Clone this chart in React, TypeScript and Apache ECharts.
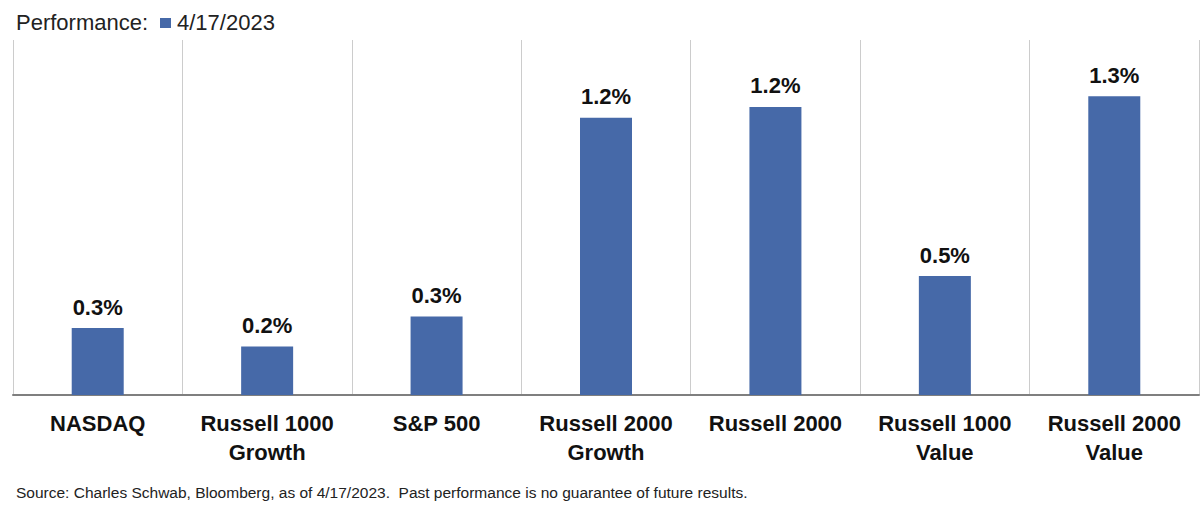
import React, { useEffect, useRef } from "react";
import * as echarts from "echarts";

const categories = [
  "NASDAQ",
  "Russell 1000\nGrowth",
  "S&P 500",
  "Russell 2000\nGrowth",
  "Russell 2000",
  "Russell 1000\nValue",
  "Russell 2000\nValue",
];
const values = [0.29, 0.21, 0.34, 1.2, 1.247, 0.515, 1.294];
const seriesName = "4/17/2023";
const legendPrefix = "Performance:";
const sourceNote =
  "Source: Charles Schwab, Bloomberg, as of 4/17/2023.  Past performance is no guarantee of future results.";

const FONT = "'Liberation Sans', Arial, sans-serif";
const BAR_COLOR = "#4669a8";

export default function App() {
  const ref = useRef<HTMLDivElement>(null);
  useEffect(() => {
    document.body.style.margin = "0";
    const chart = echarts.init(ref.current!, null, { renderer: "svg" });
    chart.setOption({
      animation: false,
      backgroundColor: "#ffffff",
      textStyle: { fontFamily: FONT },
      grid: { left: 13, right: 1, top: 40, bottom: 114, containLabel: false },
      legend: { show: false, data: [seriesName] },
      graphic: [
        {
          type: "text",
          left: 16,
          top: 11,
          style: { text: legendPrefix, fontSize: 22, fill: "#222222", fontFamily: FONT },
        },
        {
          type: "rect",
          left: 160,
          top: 18,
          shape: { width: 11, height: 10 },
          style: { fill: BAR_COLOR },
        },
        {
          type: "text",
          left: 177,
          top: 11,
          style: { text: seriesName, fontSize: 22, fill: "#222222", fontFamily: FONT },
        },
        {
          type: "text",
          left: 16,
          top: 484,
          style: { text: sourceNote, fontSize: 15.5, fill: "#222222", fontFamily: FONT },
        },
      ],
      xAxis: {
        type: "category",
        data: categories,
        boundaryGap: true,
        axisLine: { show: true, lineStyle: { color: "#7f7f7f", width: 2 } },
        axisTick: { show: false },
        splitLine: { show: true, interval: 0, lineStyle: { color: "#cccccc", width: 1 } },
        axisLabel: {
          interval: 0,
          margin: 14,
          fontSize: 22,
          fontWeight: "bold",
          color: "#111111",
          lineHeight: 29,
          fontFamily: FONT,
        },
      },
      yAxis: {
        type: "value",
        min: 0,
        max: 1.537,
        show: false,
        splitLine: { show: false },
      },
      series: [
        {
          name: seriesName,
          type: "bar",
          data: values,
          barWidth: 52,
          itemStyle: { color: BAR_COLOR },
          label: {
            show: true,
            position: "top",
            distance: 10,
            fontSize: 22,
            fontWeight: "bold",
            color: "#111111",
            fontFamily: FONT,
            formatter: (p: any) => p.value.toFixed(1) + "%",
          },
        },
      ],
    });
    return () => chart.dispose();
  }, []);
  return <div ref={ref} style={{ width: 1200, height: 509 }} />;
}
